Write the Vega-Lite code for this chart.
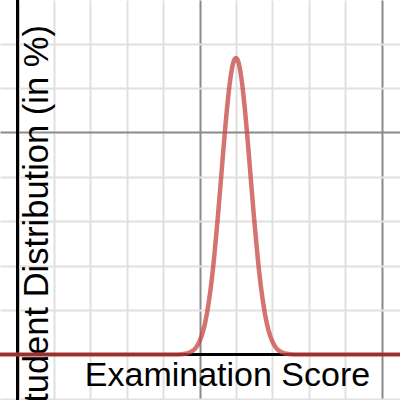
{
  "$schema": "https://vega.github.io/schema/vega-lite/v6.json",
  "width": 400,
  "height": 400,
  "padding": 0,
  "autosize": {"type": "none"},
  "background": "#ffffff",
  "config": {"view": {"stroke": null}},
  "data": {
    "values": [
      {"score": -5, "pct": 0},
      {"score": 40, "pct": 0},
      {"score": 42, "pct": 0.0002},
      {"score": 44, "pct": 0.0022},
      {"score": 45, "pct": 0.0059},
      {"score": 46, "pct": 0.0146},
      {"score": 47, "pct": 0.034},
      {"score": 48, "pct": 0.0742},
      {"score": 49, "pct": 0.1523},
      {"score": 50, "pct": 0.2935},
      {"score": 51, "pct": 0.531},
      {"score": 52, "pct": 0.904},
      {"score": 53, "pct": 1.445},
      {"score": 54, "pct": 2.169},
      {"score": 55, "pct": 3.058},
      {"score": 56, "pct": 4.052},
      {"score": 56.5, "pct": 4.555},
      {"score": 57, "pct": 5.042},
      {"score": 57.5, "pct": 5.495},
      {"score": 58, "pct": 5.895},
      {"score": 58.5, "pct": 6.226},
      {"score": 59, "pct": 6.474},
      {"score": 59.5, "pct": 6.628},
      {"score": 60, "pct": 6.68},
      {"score": 60.5, "pct": 6.628},
      {"score": 61, "pct": 6.474},
      {"score": 61.5, "pct": 6.226},
      {"score": 62, "pct": 5.895},
      {"score": 62.5, "pct": 5.495},
      {"score": 63, "pct": 5.042},
      {"score": 63.5, "pct": 4.555},
      {"score": 64, "pct": 4.052},
      {"score": 65, "pct": 3.058},
      {"score": 66, "pct": 2.169},
      {"score": 67, "pct": 1.445},
      {"score": 68, "pct": 0.904},
      {"score": 69, "pct": 0.531},
      {"score": 70, "pct": 0.2935},
      {"score": 71, "pct": 0.1523},
      {"score": 72, "pct": 0.0742},
      {"score": 73, "pct": 0.034},
      {"score": 74, "pct": 0.0146},
      {"score": 75, "pct": 0.0059},
      {"score": 76, "pct": 0.0022},
      {"score": 78, "pct": 0.0002},
      {"score": 80, "pct": 0},
      {"score": 106, "pct": 0}
    ]
  },
  "encoding": {
    "x": {
      "field": "score",
      "type": "quantitative",
      "scale": {"domain": [-4.81, 105.08], "nice": false, "zero": false},
      "axis": {
        "values": [0, 10, 20, 30, 40, 50, 60, 70, 80, 90, 100],
        "grid": true,
        "gridColor": {"condition": {"test": "datum.value % 50 === 0", "value": "#8a8a8a"}, "value": "#e0e0e0"},
        "gridWidth": 2,
        "labels": false,
        "ticks": false,
        "domain": false,
        "title": "Examination Score",
        "titleX": 227,
        "titleY": -15,
        "titleAlign": "center",
        "titleBaseline": "alphabetic",
        "titleFont": "Liberation Sans",
        "titleFontSize": 34,
        "titleFontWeight": "normal",
        "titleColor": "#000000"
      }
    },
    "y": {
      "field": "pct",
      "type": "quantitative",
      "scale": {"domain": [-1.025, 7.984], "nice": false, "zero": false},
      "axis": {
        "values": [-1, 0, 1, 2, 3, 4, 5, 6, 7],
        "grid": true,
        "gridColor": {"condition": {"test": "datum.value === 5", "value": "#8a8a8a"}, "value": "#e0e0e0"},
        "gridWidth": 2,
        "labels": false,
        "ticks": false,
        "domain": false,
        "title": "Student Distribution (in %)",
        "titleX": 47,
        "titleY": 225,
        "titleAngle": -90,
        "titleAlign": "center",
        "titleBaseline": "alphabetic",
        "titleFont": "Liberation Sans",
        "titleFontSize": 34.5,
        "titleFontWeight": "normal",
        "titleColor": "#000000"
      }
    }
  },
  "layer": [
    {
      "mark": {"type": "rule", "color": "#000000", "strokeWidth": 2.5},
      "encoding": {"x": {"datum": 0}, "y": null}
    },
    {
      "mark": {"type": "rule", "color": "#000000", "strokeWidth": 2.5},
      "encoding": {"y": {"datum": 0}, "x": null}
    },
    {
      "mark": {
        "type": "line",
        "color": "#c74440",
        "strokeWidth": 4.5,
        "strokeOpacity": 0.75,
        "interpolate": "monotone",
        "clip": true
      }
    }
  ]
}
